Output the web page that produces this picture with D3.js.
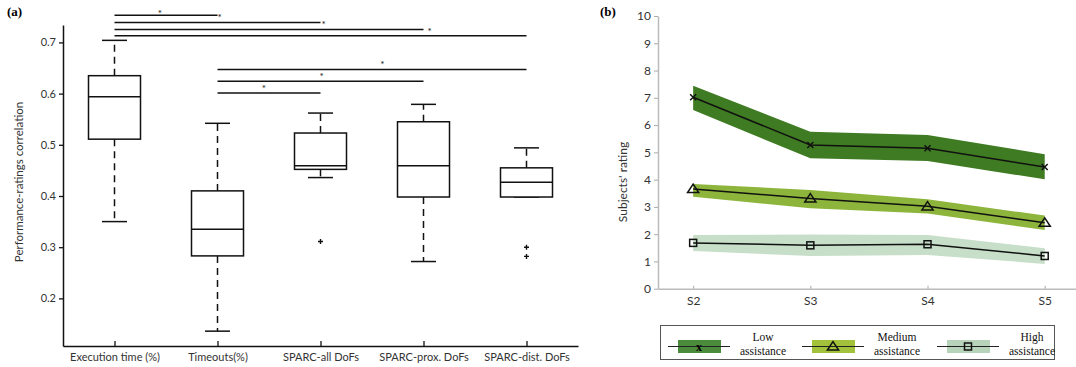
<!DOCTYPE html>
<html lang="en">
<head>
<meta charset="utf-8">
<title></title>
<script src="https://d3js.org/d3.v7.min.js"></script>
<style type="text/css">
  body { margin: 0; background: #fff; }
  text { font-family: Lato, "Noto Sans", sans-serif; }
</style>
</head>
<body>
<svg width="1076" height="367" id="svg1"></svg>
<script>
// ---- panel (a) data
var measures = ["Execution time (%)", "Timeouts(%)", "SPARC-all DoFs", "SPARC-prox. DoFs", "SPARC-dist. DoFs"];
var whiskerHigh = [0.704, 0.542, 0.562, 0.579, 0.494];
var q3 = [0.635, 0.410, 0.523, 0.545, 0.455];
var medians = [0.594, 0.335, 0.459, 0.459, 0.427];
var q1 = [0.511, 0.283, 0.452, 0.398, 0.398];
var whiskerLow = [0.350, 0.136, 0.436, 0.272, 0.398];
var outliers = [[], [], [0.311], [], [0.300, 0.282]];
var yTicksA = [0.2, 0.3, 0.4, 0.5, 0.6, 0.7];
// significance bars: [from, to, level]
var sigBars = [[1, 2, 0.753], [1, 3, 0.739], [1, 4, 0.725], [1, 5, 0.713],
               [2, 5, 0.647], [2, 4, 0.624], [2, 3, 0.601]];
// stars: [position, level]
var stars = [[1.44, 0.760], [2.02, 0.752], [3.03, 0.738], [4.06, 0.724],
             [3.6, 0.660], [3.01, 0.636], [2.45, 0.613]];

// ---- panel (b) data
var sessions = ["S2", "S3", "S4", "S5"];
var groups = ["Low", "Medium", "High"];
var means = [[7.02, 5.27, 5.15, 4.46], [3.66, 3.31, 3.02, 2.42], [1.68, 1.59, 1.63, 1.20]];
var upper = [[7.44, 5.76, 5.64, 4.93], [3.84, 3.62, 3.28, 2.68], [1.97, 1.99, 1.97, 1.48]];
var lower = [[6.55, 4.78, 4.68, 4.01], [3.37, 2.95, 2.76, 2.15], [1.38, 1.20, 1.24, 0.91]];
var bandColors = ["#3f7b22", "#8db53c", "#c7dec8"];
var legendColors = ["#4b8c3c", "#a2c23b", "#b7d4ba"];
var yTicksB = d3.range(0, 11);

var svg = d3.select("#svg1");

// ================= panel (a)
var xA = d3.scaleLinear().domain([0.5, 5.5]).range([63, 578]);
var yA = d3.scaleLinear().domain([0.107, 0.734]).range([346, 25]);

svg.append("text").attr("x", 7).attr("y", 16).text("(a)")
  .style("font-family", "Liberation Serif").style("font-weight", "bold").style("font-size", "13px");

var gyA = svg.append("g").attr("transform", "translate(63,0)")
  .call(d3.axisLeft(yA).tickValues(yTicksA).tickFormat(d3.format(".1f")).tickSize(4).tickSizeOuter(0));
var gxA = svg.append("g").attr("transform", "translate(0,346)")
  .call(d3.axisBottom(xA).tickValues([1, 2, 3, 4, 5]).tickFormat(function(d) { return measures[d - 1]; })
    .tickSize(-5).tickSizeOuter(0).tickPadding(7));
[gyA, gxA].forEach(function(g) {
  g.select(".domain").attr("stroke", "#111").attr("stroke-width", 1.5);
  g.selectAll(".tick line").attr("stroke", "#111").attr("stroke-width", 1.3);
  g.selectAll(".tick text").attr("fill", "#333").style("font-size", "11px");
});

svg.append("text")
  .attr("transform", "translate(23,182) rotate(-90)")
  .attr("text-anchor", "middle")
  .attr("fill", "#333").style("font-size", "11.5px")
  .text("Performance-ratings correlation");

var boxW = 52, capW = 25;
var boxes = svg.append("g").selectAll("g").data(measures).enter().append("g");
boxes.each(function(d, i) {
  var g = d3.select(this), cx = xA(i + 1);
  // whiskers
  g.append("line").attr("x1", cx).attr("x2", cx).attr("y1", yA(q3[i])).attr("y2", yA(whiskerHigh[i]))
    .attr("stroke", "#111").attr("stroke-width", 1.5).attr("stroke-dasharray", "7,5");
  g.append("line").attr("x1", cx).attr("x2", cx).attr("y1", yA(q1[i])).attr("y2", yA(whiskerLow[i]))
    .attr("stroke", "#111").attr("stroke-width", 1.5).attr("stroke-dasharray", "7,5");
  [whiskerHigh[i], whiskerLow[i]].forEach(function(v) {
    g.append("line").attr("x1", cx - capW / 2).attr("x2", cx + capW / 2).attr("y1", yA(v)).attr("y2", yA(v))
      .attr("stroke", "#111").attr("stroke-width", 1.5);
  });
  g.append("rect").attr("x", cx - boxW / 2).attr("width", boxW)
    .attr("y", yA(q3[i])).attr("height", yA(q1[i]) - yA(q3[i]))
    .attr("fill", "#fff").attr("stroke", "#111").attr("stroke-width", 1.5);
  g.append("line").attr("x1", cx - boxW / 2).attr("x2", cx + boxW / 2)
    .attr("y1", yA(medians[i])).attr("y2", yA(medians[i]))
    .attr("stroke", "#111").attr("stroke-width", 1.5);
  outliers[i].forEach(function(v) {
    g.append("path").attr("d", "M" + (cx - 2.5) + "," + yA(v) + "h5M" + cx + "," + (yA(v) - 2.5) + "v5")
      .attr("stroke", "#111").attr("stroke-width", 1.4);
  });
});

svg.append("g").selectAll("line").data(sigBars).enter().append("line")
  .attr("x1", function(d) { return xA(d[0]); })
  .attr("x2", function(d) { return xA(d[1]); })
  .attr("y1", function(d) { return yA(d[2]); })
  .attr("y2", function(d) { return yA(d[2]); })
  .attr("stroke", "#111").attr("stroke-width", 1.5);

svg.append("g").selectAll("text").data(stars).enter().append("text")
  .attr("x", function(d) { return xA(d[0]); })
  .attr("y", function(d) { return yA(d[1]) + 5; })
  .attr("text-anchor", "middle").style("font-size", "10px").attr("fill", "#111")
  .text("*");

// ================= panel (b)
var xB = d3.scaleLinear().domain([-0.3, 3.267]).range([658, 1076]);
var yB = d3.scaleLinear().domain([0, 10]).range([288.7, 16]);

svg.append("text").attr("x", 600).attr("y", 16).text("(b)")
  .style("font-family", "Liberation Serif").style("font-weight", "bold").style("font-size", "13px");

var gyB = svg.append("g").attr("transform", "translate(658,0)")
  .call(d3.axisLeft(yB).tickValues(yTicksB).tickSize(4).tickSizeOuter(0));
var gxB = svg.append("g").attr("transform", "translate(0,288.7)")
  .call(d3.axisBottom(xB).tickValues([0, 1, 2, 3]).tickFormat(function(d) { return sessions[d]; })
    .tickSize(-3).tickSizeOuter(0).tickPadding(8));
[gyB, gxB].forEach(function(g) {
  g.select(".domain").attr("stroke", "#bbb").attr("stroke-width", 1.5);
  g.selectAll(".tick line").attr("stroke", "#aaa");
  g.selectAll(".tick text").attr("fill", "#333").style("font-size", "12px");
});

svg.append("text")
  .attr("transform", "translate(627,182) rotate(-90)")
  .attr("text-anchor", "middle")
  .attr("fill", "#333").style("font-size", "12px")
  .text("Subjects' rating");

var area = d3.area()
  .x(function(d, i) { return xB(i); })
  .y0(function(d) { return yB(d[0]); })
  .y1(function(d) { return yB(d[1]); });
var line = d3.line()
  .x(function(d, i) { return xB(i); })
  .y(function(d) { return yB(d); });

groups.forEach(function(name, k) {
  var band = lower[k].map(function(v, i) { return [v, upper[k][i]]; });
  svg.append("path").attr("d", area(band)).attr("fill", bandColors[k]);
});

function marker(g, k, x, y, s) {
  if (k === 0) {
    g.append("path").attr("d", "M" + (x - s) + "," + (y - s) + "L" + (x + s) + "," + (y + s) +
      "M" + (x - s) + "," + (y + s) + "L" + (x + s) + "," + (y - s))
      .attr("stroke", "#111").attr("stroke-width", 1.5);
  } else if (k === 1) {
    g.append("path").attr("d", "M" + x + "," + (y - s * 1.2) + "L" + (x + s * 1.4) + "," + (y + s * 0.9) +
      "L" + (x - s * 1.4) + "," + (y + s * 0.9) + "Z")
      .attr("fill", "none").attr("stroke", "#111").attr("stroke-width", 1.5);
  } else {
    g.append("rect").attr("x", x - s).attr("y", y - s).attr("width", 2 * s).attr("height", 2 * s)
      .attr("fill", "none").attr("stroke", "#111").attr("stroke-width", 1.5);
  }
}

groups.forEach(function(name, k) {
  svg.append("path").attr("d", line(means[k])).attr("fill", "none")
    .attr("stroke", "#111").attr("stroke-width", 1.5);
  var gm = svg.append("g");
  means[k].forEach(function(v, i) {
    marker(gm, k, xB(i), yB(v), k === 0 ? 3 : (k === 1 ? 4 : 3.5));
  });
});

// legend
var legend = svg.append("g");
legend.append("rect").attr("x", 660.5).attr("y", 325.5).attr("width", 394).attr("height", 34)
  .attr("fill", "#fff").attr("stroke", "#555").attr("stroke-width", 1);
var legendX = [668, 802, 937];
var legendLabels = [["Low", "assistance"], ["Medium", "assistance"], ["High", "assistance"]];
groups.forEach(function(name, k) {
  var x0 = legendX[k];
  legend.append("rect").attr("x", x0 + 10).attr("y", 340).attr("width", 43).attr("height", 13)
    .attr("fill", legendColors[k]);
  legend.append("line").attr("x1", x0).attr("x2", x0 + 62).attr("y1", 346.5).attr("y2", 346.5)
    .attr("stroke", "#222").attr("stroke-width", 1);
  if (k === 0) {
    legend.append("text").attr("x", x0 + 31).attr("y", 351).attr("text-anchor", "middle")
      .style("font-family", "Liberation Serif").style("font-weight", "bold").style("font-size", "12px")
      .text("x");
  } else {
    marker(legend, k, x0 + 31, 346.5, k === 1 ? 4 : 3.5);
  }
  var t = legend.append("text").attr("x", x0 + 95).attr("text-anchor", "middle")
    .style("font-family", "Liberation Serif").style("font-size", "11.5px").attr("fill", "#111");
  t.append("tspan").attr("x", x0 + 95).attr("y", 341).text(legendLabels[k][0]);
  t.append("tspan").attr("x", x0 + 95).attr("y", 355).text(legendLabels[k][1]);
});
</script>
</body>
</html>
